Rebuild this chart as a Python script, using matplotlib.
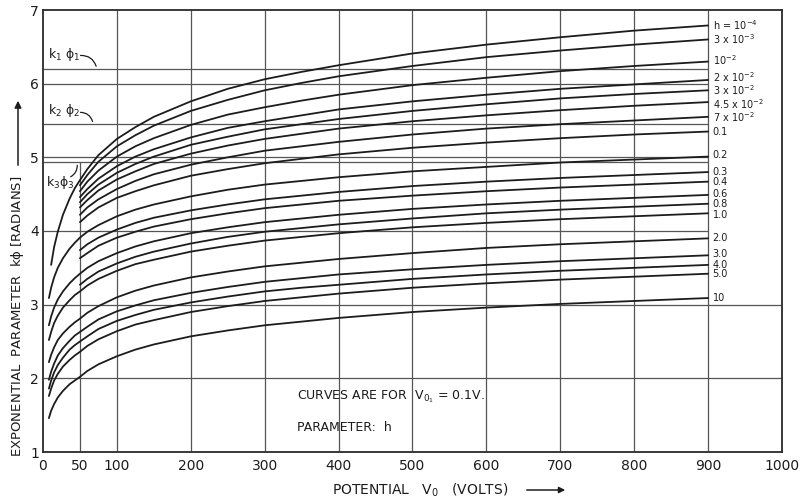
import matplotlib
matplotlib.use("Agg")
import matplotlib.pyplot as plt
from matplotlib.patches import FancyArrowPatch

plt.rcParams['font.family'] = ['DejaVu Sans']
plt.rcParams['mathtext.default'] = 'regular'

# Potential V0 (volts) at which the curves are tabulated
v_main = [50, 60, 75, 100, 125, 150, 200, 250, 300, 350, 400, 500, 600, 700, 800, 900]
# low-voltage extensions of some curves
v_left = [8, 11, 15, 20, 27, 36, 43]
v_left_top = [11, 15, 20, 27, 36, 43]

# Exponential parameter k*phi (radians) for each value of h
kphi_h1e4 = [4.69, 4.84, 5.03, 5.25, 5.41, 5.55, 5.76, 5.93, 6.06, 6.16, 6.25, 6.41, 6.53, 6.63, 6.72, 6.79]
kphi_h3e3 = [4.62, 4.76, 4.94, 5.15, 5.30, 5.43, 5.63, 5.78, 5.91, 6.01, 6.10, 6.24, 6.36, 6.45, 6.53, 6.60]
kphi_h1e2 = [4.54, 4.67, 4.82, 5.01, 5.15, 5.26, 5.44, 5.58, 5.68, 5.77, 5.85, 5.98, 6.08, 6.17, 6.24, 6.30]
kphi_h2e2 = [4.46, 4.57, 4.71, 4.88, 5.01, 5.11, 5.27, 5.40, 5.49, 5.57, 5.65, 5.76, 5.85, 5.93, 5.99, 6.05]
kphi_h3e2 = [4.39, 4.50, 4.63, 4.79, 4.91, 5.01, 5.17, 5.28, 5.38, 5.45, 5.52, 5.63, 5.72, 5.80, 5.86, 5.91]
kphi_h45e2 = [4.32, 4.42, 4.55, 4.70, 4.81, 4.91, 5.05, 5.16, 5.25, 5.32, 5.39, 5.49, 5.57, 5.64, 5.70, 5.75]
kphi_h7e2 = [4.22, 4.32, 4.43, 4.57, 4.68, 4.77, 4.90, 5.00, 5.09, 5.15, 5.21, 5.31, 5.39, 5.45, 5.50, 5.55]
kphi_h01 = [4.12, 4.21, 4.32, 4.45, 4.54, 4.62, 4.75, 4.84, 4.92, 4.98, 5.04, 5.13, 5.20, 5.26, 5.31, 5.35]
kphi_h02 = [3.91, 3.99, 4.08, 4.20, 4.29, 4.36, 4.47, 4.56, 4.63, 4.68, 4.73, 4.81, 4.87, 4.93, 4.97, 5.01]
kphi_h03 = [3.74, 3.82, 3.91, 4.02, 4.11, 4.18, 4.28, 4.36, 4.43, 4.48, 4.53, 4.61, 4.67, 4.72, 4.76, 4.80]
kphi_h04 = [3.63, 3.70, 3.80, 3.91, 3.99, 4.06, 4.16, 4.24, 4.31, 4.36, 4.41, 4.48, 4.54, 4.59, 4.63, 4.67]
kphi_h06 = [3.42, 3.50, 3.59, 3.70, 3.79, 3.86, 3.97, 4.05, 4.12, 4.17, 4.22, 4.30, 4.36, 4.41, 4.45, 4.49]
kphi_h08 = [3.27, 3.35, 3.45, 3.56, 3.65, 3.72, 3.83, 3.92, 3.99, 4.04, 4.09, 4.17, 4.24, 4.29, 4.33, 4.37]
kphi_h10 = [3.18, 3.26, 3.35, 3.46, 3.55, 3.61, 3.72, 3.80, 3.87, 3.92, 3.97, 4.05, 4.11, 4.16, 4.20, 4.24]
kphi_h20 = [2.81, 2.89, 2.98, 3.10, 3.19, 3.26, 3.37, 3.45, 3.52, 3.57, 3.62, 3.70, 3.77, 3.82, 3.86, 3.90]
kphi_h30 = [2.63, 2.70, 2.80, 2.91, 2.99, 3.06, 3.16, 3.24, 3.31, 3.36, 3.41, 3.48, 3.54, 3.59, 3.63, 3.67]
kphi_h40 = [2.50, 2.57, 2.67, 2.78, 2.86, 2.93, 3.03, 3.11, 3.18, 3.23, 3.27, 3.35, 3.41, 3.46, 3.50, 3.54]
kphi_h50 = [2.36, 2.44, 2.53, 2.64, 2.73, 2.79, 2.90, 2.98, 3.05, 3.10, 3.15, 3.23, 3.29, 3.34, 3.38, 3.42]
kphi_h100 = [2.02, 2.10, 2.19, 2.30, 2.39, 2.46, 2.57, 2.65, 2.72, 2.77, 2.82, 2.90, 2.96, 3.01, 3.05, 3.09]

# values below 50 V
left_h1e4 = [3.54, 3.78, 3.99, 4.22, 4.44, 4.58]
left_h02 = [3.09, 3.23, 3.37, 3.50, 3.63, 3.76, 3.84]
left_h06 = [2.72, 2.84, 2.96, 3.07, 3.18, 3.29, 3.36]
left_h10 = [2.52, 2.63, 2.75, 2.85, 2.96, 3.06, 3.13]
left_h20 = [2.22, 2.32, 2.42, 2.52, 2.61, 2.70, 2.76]
left_h30 = [1.98, 2.09, 2.20, 2.31, 2.41, 2.51, 2.58]
left_h40 = [1.86, 1.97, 2.08, 2.18, 2.28, 2.39, 2.45]
left_h50 = [1.76, 1.86, 1.97, 2.06, 2.16, 2.25, 2.31]
left_h100 = [1.46, 1.56, 1.65, 1.74, 1.83, 1.92, 1.97]

h_labels = ["h = 10$^{-4}$", "3 x 10$^{-3}$", "10$^{-2}$", "2 x 10$^{-2}$",
            "3 x 10$^{-2}$", "4.5 x 10$^{-2}$", "7 x 10$^{-2}$", "0.1", "0.2",
            "0.3", "0.4", "0.6", "0.8", "1.0", "2.0", "3.0", "4.0", "5.0", "10"]
# small vertical nudges so crowded labels stay readable
label_nudge = [0, 0, 0.02, 0.04, 0.0, -0.03, -0.01, 0, 0.02,
               0, 0, 0.01, 0, -0.02, 0, 0.02, 0, 0, 0]

# reference levels k1*phi1, k2*phi2, k3*phi3
k_levels = [6.2, 5.45, 4.93]
k_names = ["k$_1$ $\\phi_1$", "k$_2$ $\\phi_2$", "k$_3$$\\phi_3$"]

x_ticks = [0, 50, 100, 200, 300, 400, 500, 600, 700, 800, 900, 1000]
y_ticks = [1, 2, 3, 4, 5, 6, 7]

curves = [
    (kphi_h1e4, v_left_top, left_h1e4),
    (kphi_h3e3, None, None),
    (kphi_h1e2, None, None),
    (kphi_h2e2, None, None),
    (kphi_h3e2, None, None),
    (kphi_h45e2, None, None),
    (kphi_h7e2, None, None),
    (kphi_h01, None, None),
    (kphi_h02, v_left, left_h02),
    (kphi_h03, None, None),
    (kphi_h04, None, None),
    (kphi_h06, v_left, left_h06),
    (kphi_h08, None, None),
    (kphi_h10, v_left, left_h10),
    (kphi_h20, v_left, left_h20),
    (kphi_h30, v_left, left_h30),
    (kphi_h40, v_left, left_h40),
    (kphi_h50, v_left, left_h50),
    (kphi_h100, v_left, left_h100),
]

INK = "#1c1c1c"
GRID = "#555555"

fig = plt.figure(figsize=(8.04, 5.01), dpi=100, facecolor="white")
ax = fig.add_axes([43 / 804, 49 / 501, 739 / 804, 442 / 501])
ax.set_xlim(0, 1000)
ax.set_ylim(1, 7)

# grid: verticals
ax.vlines(x_ticks[2:-1], 1, 7, color=GRID, lw=0.9, zorder=1)
ax.vlines(x_ticks[1], 1, k_levels[2], color=GRID, lw=0.9, zorder=1)
# grid: horizontals (upper ones stop at the label column)
ax.hlines([2, 3], 0, 1000, color=GRID, lw=0.9, zorder=1)
ax.hlines([4, 5, 6], 0, 900, color=GRID, lw=0.9, zorder=1)
ax.hlines(k_levels, 0, 900, color=GRID, lw=0.9, zorder=1)

for (vals, vl, left), lab, dy in zip(curves, h_labels, label_nudge):
    xs = list(v_main)
    ys = list(vals)
    if vl is not None:
        xs = list(vl) + xs
        ys = list(left) + ys
    ax.plot(xs, ys, color=INK, lw=1.3, solid_capstyle="round",
            solid_joinstyle="round", zorder=3)
    ax.text(906, vals[-1] + dy, lab, fontsize=7, ha="left", va="center", color=INK)

# k*phi annotations
ax.text(7, 6.40, k_names[0], fontsize=9, ha="left", va="center", color=INK)
ax.annotate("", xy=(73, k_levels[0]), xytext=(47, 6.38),
            arrowprops=dict(arrowstyle="-", color=INK, lw=0.9,
                            connectionstyle="arc3,rad=-0.45"))
ax.text(7, 5.63, k_names[1], fontsize=9, ha="left", va="center", color=INK)
ax.annotate("", xy=(68, k_levels[1]), xytext=(47, 5.61),
            arrowprops=dict(arrowstyle="-", color=INK, lw=0.9,
                            connectionstyle="arc3,rad=-0.45"))
ax.text(4, 4.66, k_names[2], fontsize=9, ha="left", va="center", color=INK)
ax.annotate("", xy=(46, k_levels[2]), xytext=(34, 4.72),
            arrowprops=dict(arrowstyle="-", color=INK, lw=0.9,
                            connectionstyle="arc3,rad=0.4"))

# note
ax.text(344, 1.75, "CURVES ARE FOR  V$_{0_1}$ = 0.1V.", fontsize=9, ha="left",
        va="center", color=INK)
ax.text(344, 1.33, "PARAMETER:  h", fontsize=9, ha="left", va="center", color=INK)

ax.set_xticks(x_ticks)
ax.set_yticks(y_ticks)
ax.set_xticklabels([str(t) for t in x_ticks])
ax.set_yticklabels([str(t) for t in y_ticks])
ax.tick_params(length=0, labelsize=10, colors=INK)
ax.tick_params(axis="y", pad=3)
ax.tick_params(axis="x", pad=5)
for s in ax.spines.values():
    s.set_color("#2a2a2a")
    s.set_linewidth(1.3)

# axis titles
fig.text(18 / 804, 1 - 316 / 501, "EXPONENTIAL  PARAMETER  k$\\phi$ [RADIANS]",
         rotation=90, ha="center", va="center", fontsize=9.5, color=INK)
fig.patches.append(FancyArrowPatch(
    (18 / 804, 1 - 168 / 501), (18 / 804, 1 - 98 / 501), transform=fig.transFigure,
    arrowstyle="-|>", mutation_scale=10, color=INK, lw=1.1))
fig.text(420 / 804, 1 - 490 / 501, "POTENTIAL   V$_0$   (VOLTS)",
         ha="center", va="center", fontsize=10, color=INK)
fig.patches.append(FancyArrowPatch(
    (524 / 804, 1 - 490 / 501), (568 / 804, 1 - 490 / 501), transform=fig.transFigure,
    arrowstyle="-|>", mutation_scale=9, color=INK, lw=1.1))

fig.savefig("out.png", dpi=100, facecolor="white")
